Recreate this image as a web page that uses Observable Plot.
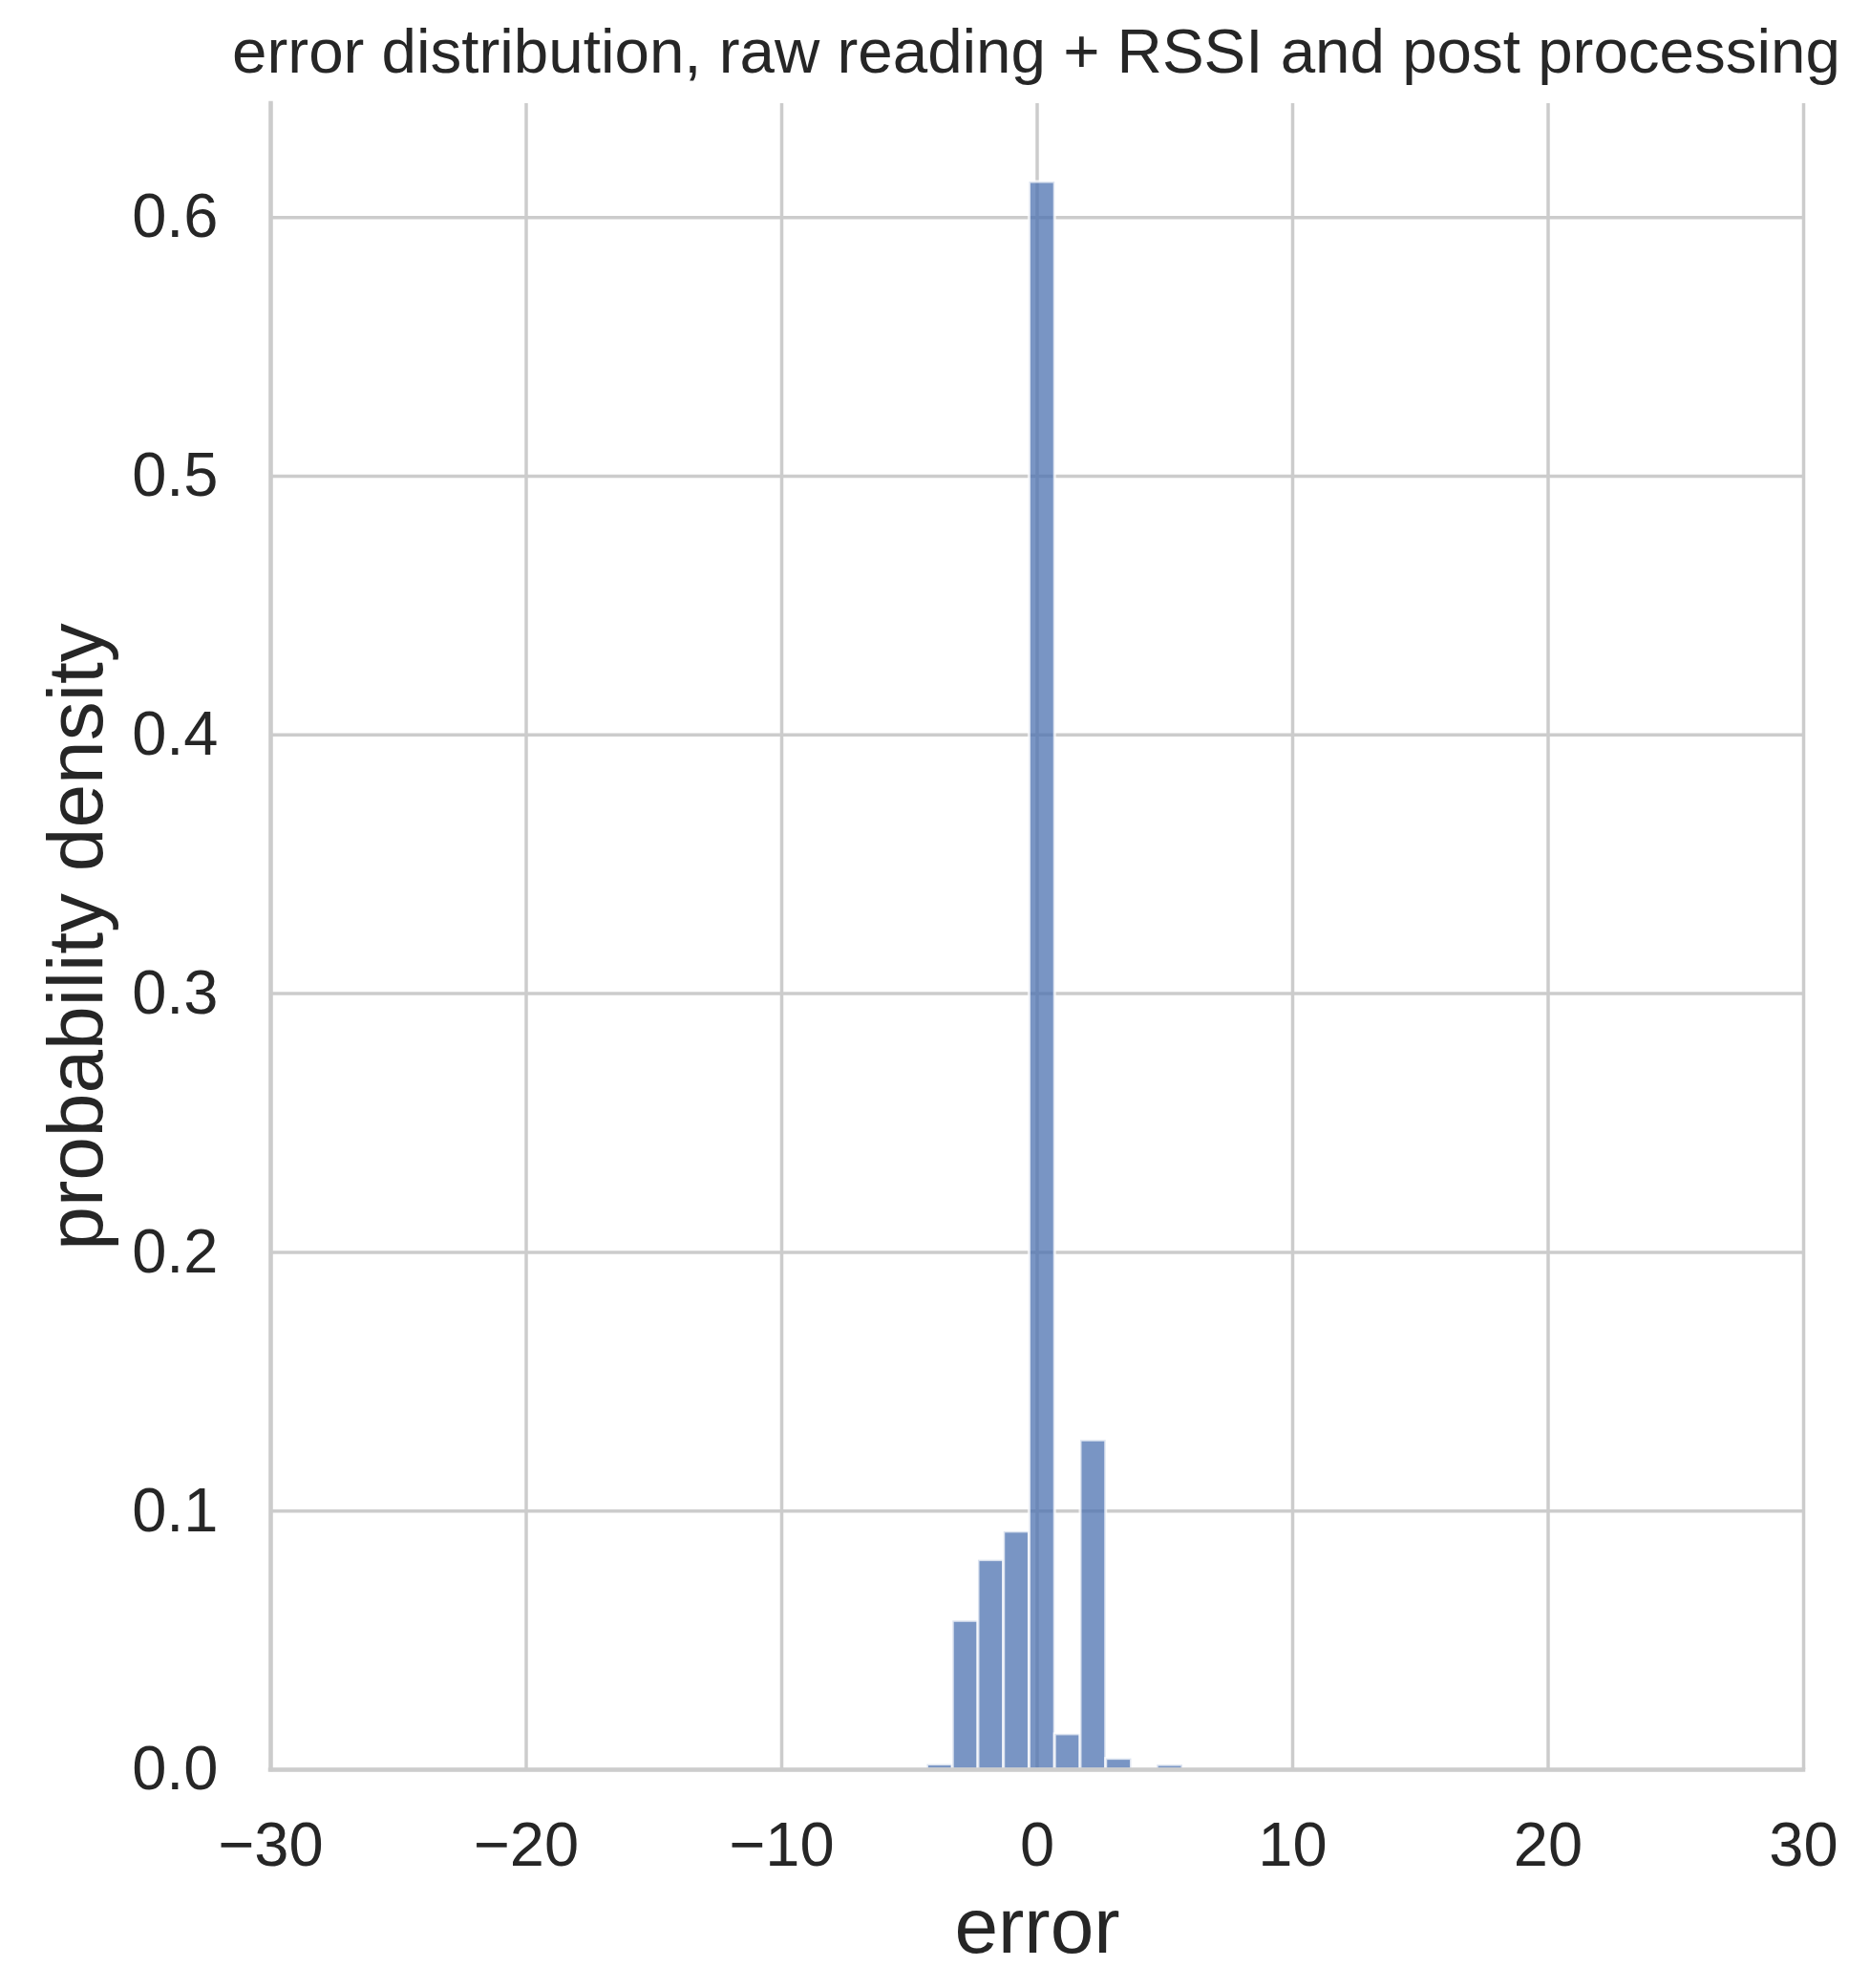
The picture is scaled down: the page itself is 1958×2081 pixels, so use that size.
<!DOCTYPE html>
<html>
<head>
<meta charset="utf-8">
<script src="https://cdn.jsdelivr.net/npm/d3@7"></script>
<script src="https://cdn.jsdelivr.net/npm/@observablehq/plot@0.6"></script>
<style>
  body { margin: 0; background: #fff; overflow: hidden; }
  #wrap { position: relative; width: 1958px; height: 2081px; }
  #chart { position: absolute; left: 0; top: 0; }
  #title {
    position: absolute; left: 185px; width: 1800px; top: 21px;
    text-align: center; white-space: nowrap;
    font-family: "Liberation Sans", Arial, sans-serif;
    font-size: 65.5px; line-height: 1; color: #262626;
  }
</style>
</head>
<body>
<div id="wrap">
  <div id="chart"></div>
  <div id="title"></div>
</div>
<script>
// ---- data ----
const titleText = "error distribution, raw reading + RSSI and post processing";
const xLabel = "error";
const yLabel = "probability density";
const binEdges = [-4.3, -3.3, -2.3, -1.3, -0.3, 0.7, 1.7, 2.7, 3.7, 4.7, 5.7];
const densities = [0.002, 0.0575, 0.081, 0.092, 0.6137, 0.0137, 0.1273, 0.0042, 0, 0.0018];
const xTicks = [-30, -20, -10, 0, 10, 20, 30];
const yTicks = [0, 0.1, 0.2, 0.3, 0.4, 0.5, 0.6];
const xDomain = [-30, 30];
const yDomain = [0, 0.644];

// ---- table for the library ----
const bins = densities
  .map((d, i) => ({x1: binEdges[i], x2: binEdges[i + 1], density: d}))
  .filter(b => b.density > 0);

document.getElementById("title").textContent = titleText;

const gridColor = "#cccccc";
const textColor = "#262626";

const chart = Plot.plot({
  width: 1958,
  height: 2081,
  marginTop: 108,
  marginBottom: 229,
  marginLeft: 283,
  marginRight: 70,
  x: {domain: xDomain},
  y: {domain: yDomain},
  style: {fontFamily: "'Liberation Sans', Arial, sans-serif", color: textColor, background: "white", overflow: "visible"},
  marks: [
    Plot.gridX(xTicks, {stroke: gridColor, strokeOpacity: 1, strokeWidth: 3.5}),
    Plot.gridY(yTicks, {stroke: gridColor, strokeOpacity: 1, strokeWidth: 3.5}),
    Plot.rectY(bins, {
      x1: "x1", x2: "x2", y: "density",
      fill: "#4c72b0", fillOpacity: 0.75,
      stroke: "white", strokeWidth: 3, strokeOpacity: 0.75
    }),
    Plot.ruleX([xDomain[0]], {stroke: gridColor, strokeWidth: 4.5, strokeLinecap: "square"}),
    Plot.ruleY([yDomain[0]], {stroke: gridColor, strokeWidth: 4.5, strokeLinecap: "square"}),
    Plot.axisX(xTicks, {tickSize: 0, tickPadding: 54, fontSize: 65, label: null}),
    Plot.axisY(yTicks, {tickSize: 0, tickPadding: 55, fontSize: 65, label: null, tickFormat: d3.format(".1f")}),
    Plot.text([xLabel], {text: d => d, frameAnchor: "bottom", lineAnchor: "bottom", dy: 191, fontSize: 82}),
    Plot.text([yLabel], {text: d => d, frameAnchor: "left", textAnchor: "middle", rotate: -90, lineAnchor: "bottom", dx: -177, fontSize: 82})
  ]
});
document.getElementById("chart").appendChild(chart);
</script>
</body>
</html>
